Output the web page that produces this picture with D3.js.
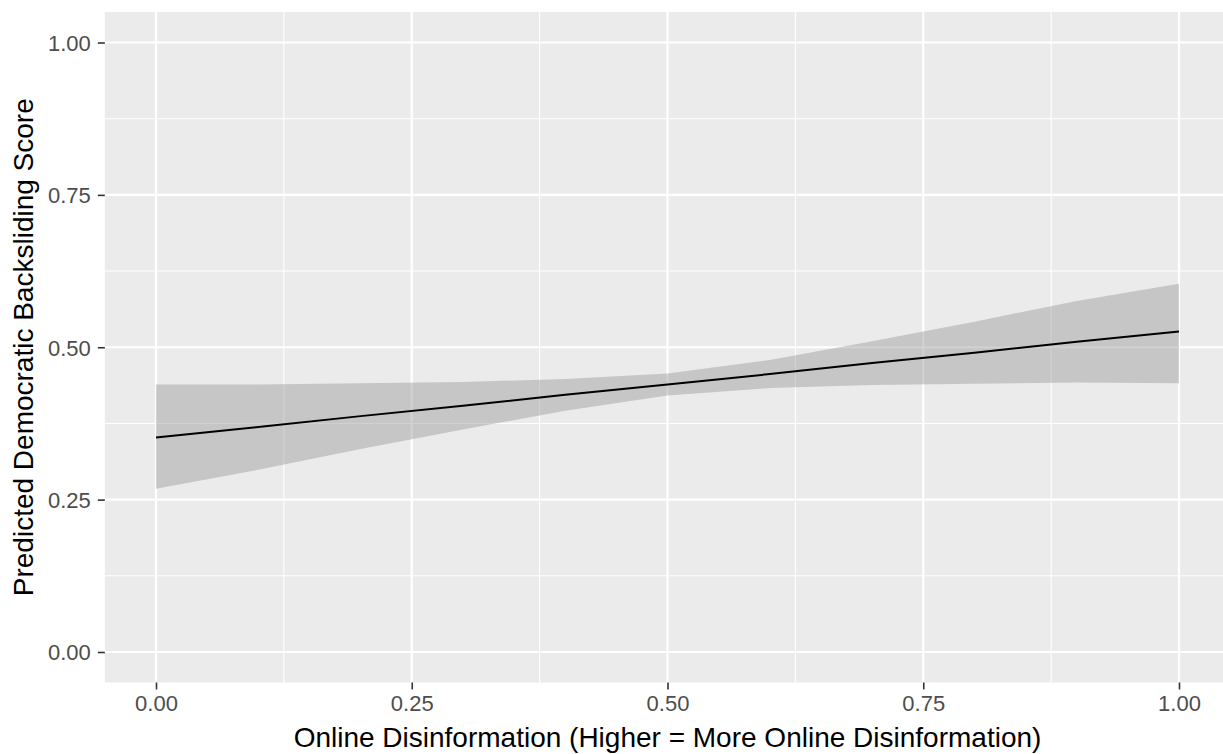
<!DOCTYPE html>
<html>
<head>
<meta charset="utf-8">
<script src="https://cdn.jsdelivr.net/npm/d3@7"></script>
<style>
  html, body { margin: 0; padding: 0; background: #ffffff; }
  svg { display: block; }
  text { font-family: "Liberation Sans", Arial, sans-serif; }
</style>
</head>
<body>
<svg id="chart" width="1223" height="754"></svg>
<script>
// ---- Data ----
const xValues   = [0.0, 0.1, 0.2, 0.3, 0.4, 0.5, 0.6, 0.7, 0.8, 0.9, 1.0];
const predicted = [0.352, 0.369, 0.387, 0.404, 0.422, 0.439, 0.456, 0.474, 0.491, 0.509, 0.526];
const upperCI   = [0.439, 0.439, 0.441, 0.443, 0.448, 0.457, 0.479, 0.510, 0.542, 0.576, 0.604];
const lowerCI   = [0.268, 0.299, 0.333, 0.365, 0.396, 0.421, 0.433, 0.438, 0.440, 0.442, 0.441];

const majorBreaks = [0, 0.25, 0.5, 0.75, 1];
const minorBreaks = [0.125, 0.375, 0.625, 0.875];
const tickLabels  = ["0.00", "0.25", "0.50", "0.75", "1.00"];

const xTitle = "Online Disinformation (Higher = More Online Disinformation)";
const yTitle = "Predicted Democratic Backsliding Score";

// ---- Layout ----
const svg = d3.select("#chart");
const x = d3.scaleLinear().domain([0, 1]).range([156, 1179]);
const y = d3.scaleLinear().domain([0, 1]).range([652, 42.5]);
const expand = 0.05;
const panelLeft = x(-expand), panelRight = x(1 + expand);
const panelTop = y(1 + expand), panelBottom = y(-expand);

// panel background
svg.append("rect")
  .attr("x", panelLeft).attr("y", panelTop)
  .attr("width", panelRight - panelLeft).attr("height", panelBottom - panelTop)
  .attr("fill", "#EBEBEB");

const grid = svg.append("g");
// minor gridlines
grid.selectAll(".hminor").data(minorBreaks).enter().append("line")
  .attr("x1", panelLeft).attr("x2", panelRight)
  .attr("y1", d => y(d)).attr("y2", d => y(d))
  .attr("stroke", "#ffffff").attr("stroke-width", 1.1);
grid.selectAll(".vminor").data(minorBreaks).enter().append("line")
  .attr("y1", panelTop).attr("y2", panelBottom)
  .attr("x1", d => x(d)).attr("x2", d => x(d))
  .attr("stroke", "#ffffff").attr("stroke-width", 1.1);
// major gridlines
grid.selectAll(".hmajor").data(majorBreaks).enter().append("line")
  .attr("x1", panelLeft).attr("x2", panelRight)
  .attr("y1", d => y(d)).attr("y2", d => y(d))
  .attr("stroke", "#ffffff").attr("stroke-width", 2.2);
grid.selectAll(".vmajor").data(majorBreaks).enter().append("line")
  .attr("y1", panelTop).attr("y2", panelBottom)
  .attr("x1", d => x(d)).attr("x2", d => x(d))
  .attr("stroke", "#ffffff").attr("stroke-width", 2.2);

// ---- Ribbon + line ----
const rows = xValues.map((v, i) => ({ x: v, fit: predicted[i], lo: lowerCI[i], hi: upperCI[i] }));

svg.append("path")
  .datum(rows)
  .attr("d", d3.area().x(d => x(d.x)).y0(d => y(d.lo)).y1(d => y(d.hi)))
  .attr("fill", "#999999")
  .attr("fill-opacity", 0.45);

svg.append("path")
  .datum(rows)
  .attr("d", d3.line().x(d => x(d.x)).y(d => y(d.fit)))
  .attr("fill", "none")
  .attr("stroke", "#000000")
  .attr("stroke-width", 2);

// ---- Axes ----
const fmt = d => tickLabels[majorBreaks.indexOf(d)];

const yAxis = svg.append("g")
  .attr("transform", `translate(${panelLeft},0)`)
  .call(d3.axisLeft(y).tickValues(majorBreaks).tickFormat(fmt).tickSize(7).tickPadding(7));
const xAxis = svg.append("g")
  .attr("transform", `translate(0,${panelBottom})`)
  .call(d3.axisBottom(x).tickValues(majorBreaks).tickFormat(fmt).tickSize(7).tickPadding(5));

[xAxis, yAxis].forEach(g => {
  g.select(".domain").remove();
  g.selectAll(".tick line").attr("stroke", "#333333").attr("stroke-width", 1.6);
  g.selectAll(".tick text")
    .attr("fill", "#4D4D4D")
    .style("font-size", "22px")
    .style("font-family", '"Liberation Sans", Arial, sans-serif');
});
yAxis.selectAll(".tick text").attr("dy", "0.36em");
xAxis.selectAll(".tick text").attr("dy", "0.76em");

// ---- Axis titles ----
svg.append("text")
  .attr("x", (panelLeft + panelRight) / 2)
  .attr("y", 747)
  .attr("text-anchor", "middle")
  .attr("fill", "#000000")
  .style("font-size", "28px")
  .text(xTitle);

svg.append("text")
  .attr("transform", `translate(33,${(panelTop + panelBottom) / 2}) rotate(-90)`)
  .attr("text-anchor", "middle")
  .attr("fill", "#000000")
  .style("font-size", "28px")
  .text(yTitle);
</script>
</body>
</html>
